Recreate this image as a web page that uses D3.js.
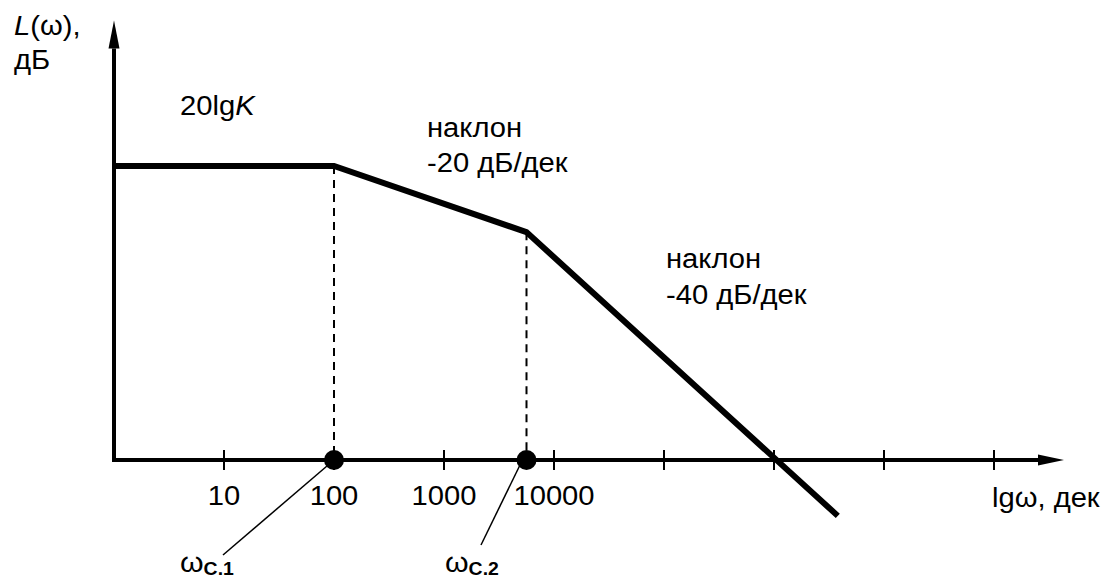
<!DOCTYPE html>
<html>
<head>
<meta charset="utf-8">
<script src="https://cdn.jsdelivr.net/npm/d3@7"></script>
<style>
  body { margin: 0; background: #fff; }
  text { font-family: "Liberation Sans", Arial, sans-serif; fill: #000; }
</style>
</head>
<body>
<div id="chart"></div>
<script>
// decades on the lg(omega) axis (origin = lg 1 = 0)
let tickDecades = [1, 2, 3, 4, 5, 6, 7, 8];
let tickLabels = ["10", "100", "1000", "10000", "", "", "", ""];

// asymptotic LAFC, lg(omega) and L in dB
let curveLg = [0, 2, 3.75, 6.58];
let curveL = [60, 60, 46.5, -11.4];

// corner frequencies (lg) and their labels
let cornerLg = [2, 3.75];
let cornerL = [60, 46.5];
let cornerNames = ["C.1", "C.2"];

let width = 1107, height = 583;
let fs = 27;        // main font size
let stretch = 1.08; // original text is a bit wider than Arial

let x = d3.scaleLinear().domain([0, 8]).range([114, 994]);
let y = d3.scaleLinear().domain([0, 60]).range([460, 166]);

let svg = d3.select("#chart")
    .append("svg")
    .attr("width", width)
    .attr("height", height);

// axes with arrow heads
svg.append("line")
    .attr("x1", x(0)).attr("y1", y(0))
    .attr("x2", x(8.4)).attr("y2", y(0))
    .attr("stroke", "#000").attr("stroke-width", 4);
svg.append("path")
    .attr("d", "M" + x(8.4) + "," + (y(0) - 5.5) + "L" + (x(8.4) + 26) + "," + y(0) + "L" + x(8.4) + "," + (y(0) + 5.5) + "Z")
    .attr("fill", "#000");

svg.append("line")
    .attr("x1", x(0)).attr("y1", y(0) + 2)
    .attr("x2", x(0)).attr("y2", y(84))
    .attr("stroke", "#000").attr("stroke-width", 4);
svg.append("path")
    .attr("d", "M" + (x(0) - 5.5) + "," + y(84) + "L" + x(0) + "," + (y(84) - 28) + "L" + (x(0) + 5.5) + "," + y(84) + "Z")
    .attr("fill", "#000");

// ticks
svg.selectAll(".tick")
    .data(tickDecades)
    .enter()
    .append("line")
    .attr("class", "tick")
    .attr("x1", function(d) { return x(d); })
    .attr("x2", function(d) { return x(d); })
    .attr("y1", y(0) - 10)
    .attr("y2", y(0) + 10)
    .attr("stroke", "#000")
    .attr("stroke-width", 2);

// helper: text slightly stretched horizontally like the original
function label(g, tx, ty, str, size, anchor) {
    return g.append("text")
        .attr("transform", "translate(" + tx + "," + ty + ") scale(" + stretch + ",1)")
        .attr("font-size", size)
        .attr("text-anchor", anchor || "start")
        .text(str);
}

tickDecades.forEach(function(d, i) {
    if (tickLabels[i]) label(svg, x(d), 505, tickLabels[i], fs, "middle");
});

// dashed verticals from corners
svg.selectAll(".drop")
    .data(cornerLg)
    .enter()
    .append("line")
    .attr("x1", function(d) { return x(d); })
    .attr("x2", function(d) { return x(d); })
    .attr("y1", function(d, i) { return y(cornerL[i]); })
    .attr("y2", y(0))
    .attr("stroke", "#000")
    .attr("stroke-width", 2)
    .attr("stroke-dasharray", "8,6");

// the curve
let line = d3.line()
    .x(function(d) { return x(d[0]); })
    .y(function(d) { return y(d[1]); });

svg.append("path")
    .datum(d3.zip(curveLg, curveL))
    .attr("d", line)
    .attr("fill", "none")
    .attr("stroke", "#000")
    .attr("stroke-width", 6)
    .attr("stroke-linejoin", "miter");

// leader lines + corner dots
let leaderEnds = [[223, 555], [481, 545]];
let labelPos = [[180, 572], [445, 572]];

cornerLg.forEach(function(d, i) {
    svg.append("line")
        .attr("x1", x(d) - 7).attr("y1", y(0) + 6)
        .attr("x2", leaderEnds[i][0]).attr("y2", leaderEnds[i][1])
        .attr("stroke", "#000").attr("stroke-width", 1.5);
    svg.append("circle")
        .attr("cx", x(d)).attr("cy", y(0))
        .attr("r", 10)
        .attr("fill", "#000");
    let t = svg.append("text")
        .attr("transform", "translate(" + labelPos[i][0] + "," + labelPos[i][1] + ") scale(" + stretch + ",1)")
        .attr("font-size", 28);
    t.append("tspan").text("ω");
    t.append("tspan")
        .attr("font-size", 18)
        .attr("font-weight", "bold")
        .attr("dy", 3)
        .text(cornerNames[i]);
});

// axis titles
let yt = svg.append("text")
    .attr("transform", "translate(14,35) scale(" + stretch + ",1)")
    .attr("font-size", fs);
yt.append("tspan").attr("font-style", "italic").text("L");
yt.append("tspan").text("(ω),");
label(svg, 14, 69, "дБ", fs);

label(svg, 992, 507, "lgω, дек", fs);

// annotations
let k = svg.append("text")
    .attr("transform", "translate(180,115) scale(" + stretch + ",1)")
    .attr("font-size", fs);
k.append("tspan").text("20lg");
k.append("tspan").attr("font-style", "italic").text("K");

label(svg, 427, 137, "наклон", fs);
label(svg, 427, 172, "-20 дБ/дек", fs);
label(svg, 666, 268, "наклон", fs);
label(svg, 666, 304, "-40 дБ/дек", fs);
</script>
</body>
</html>
